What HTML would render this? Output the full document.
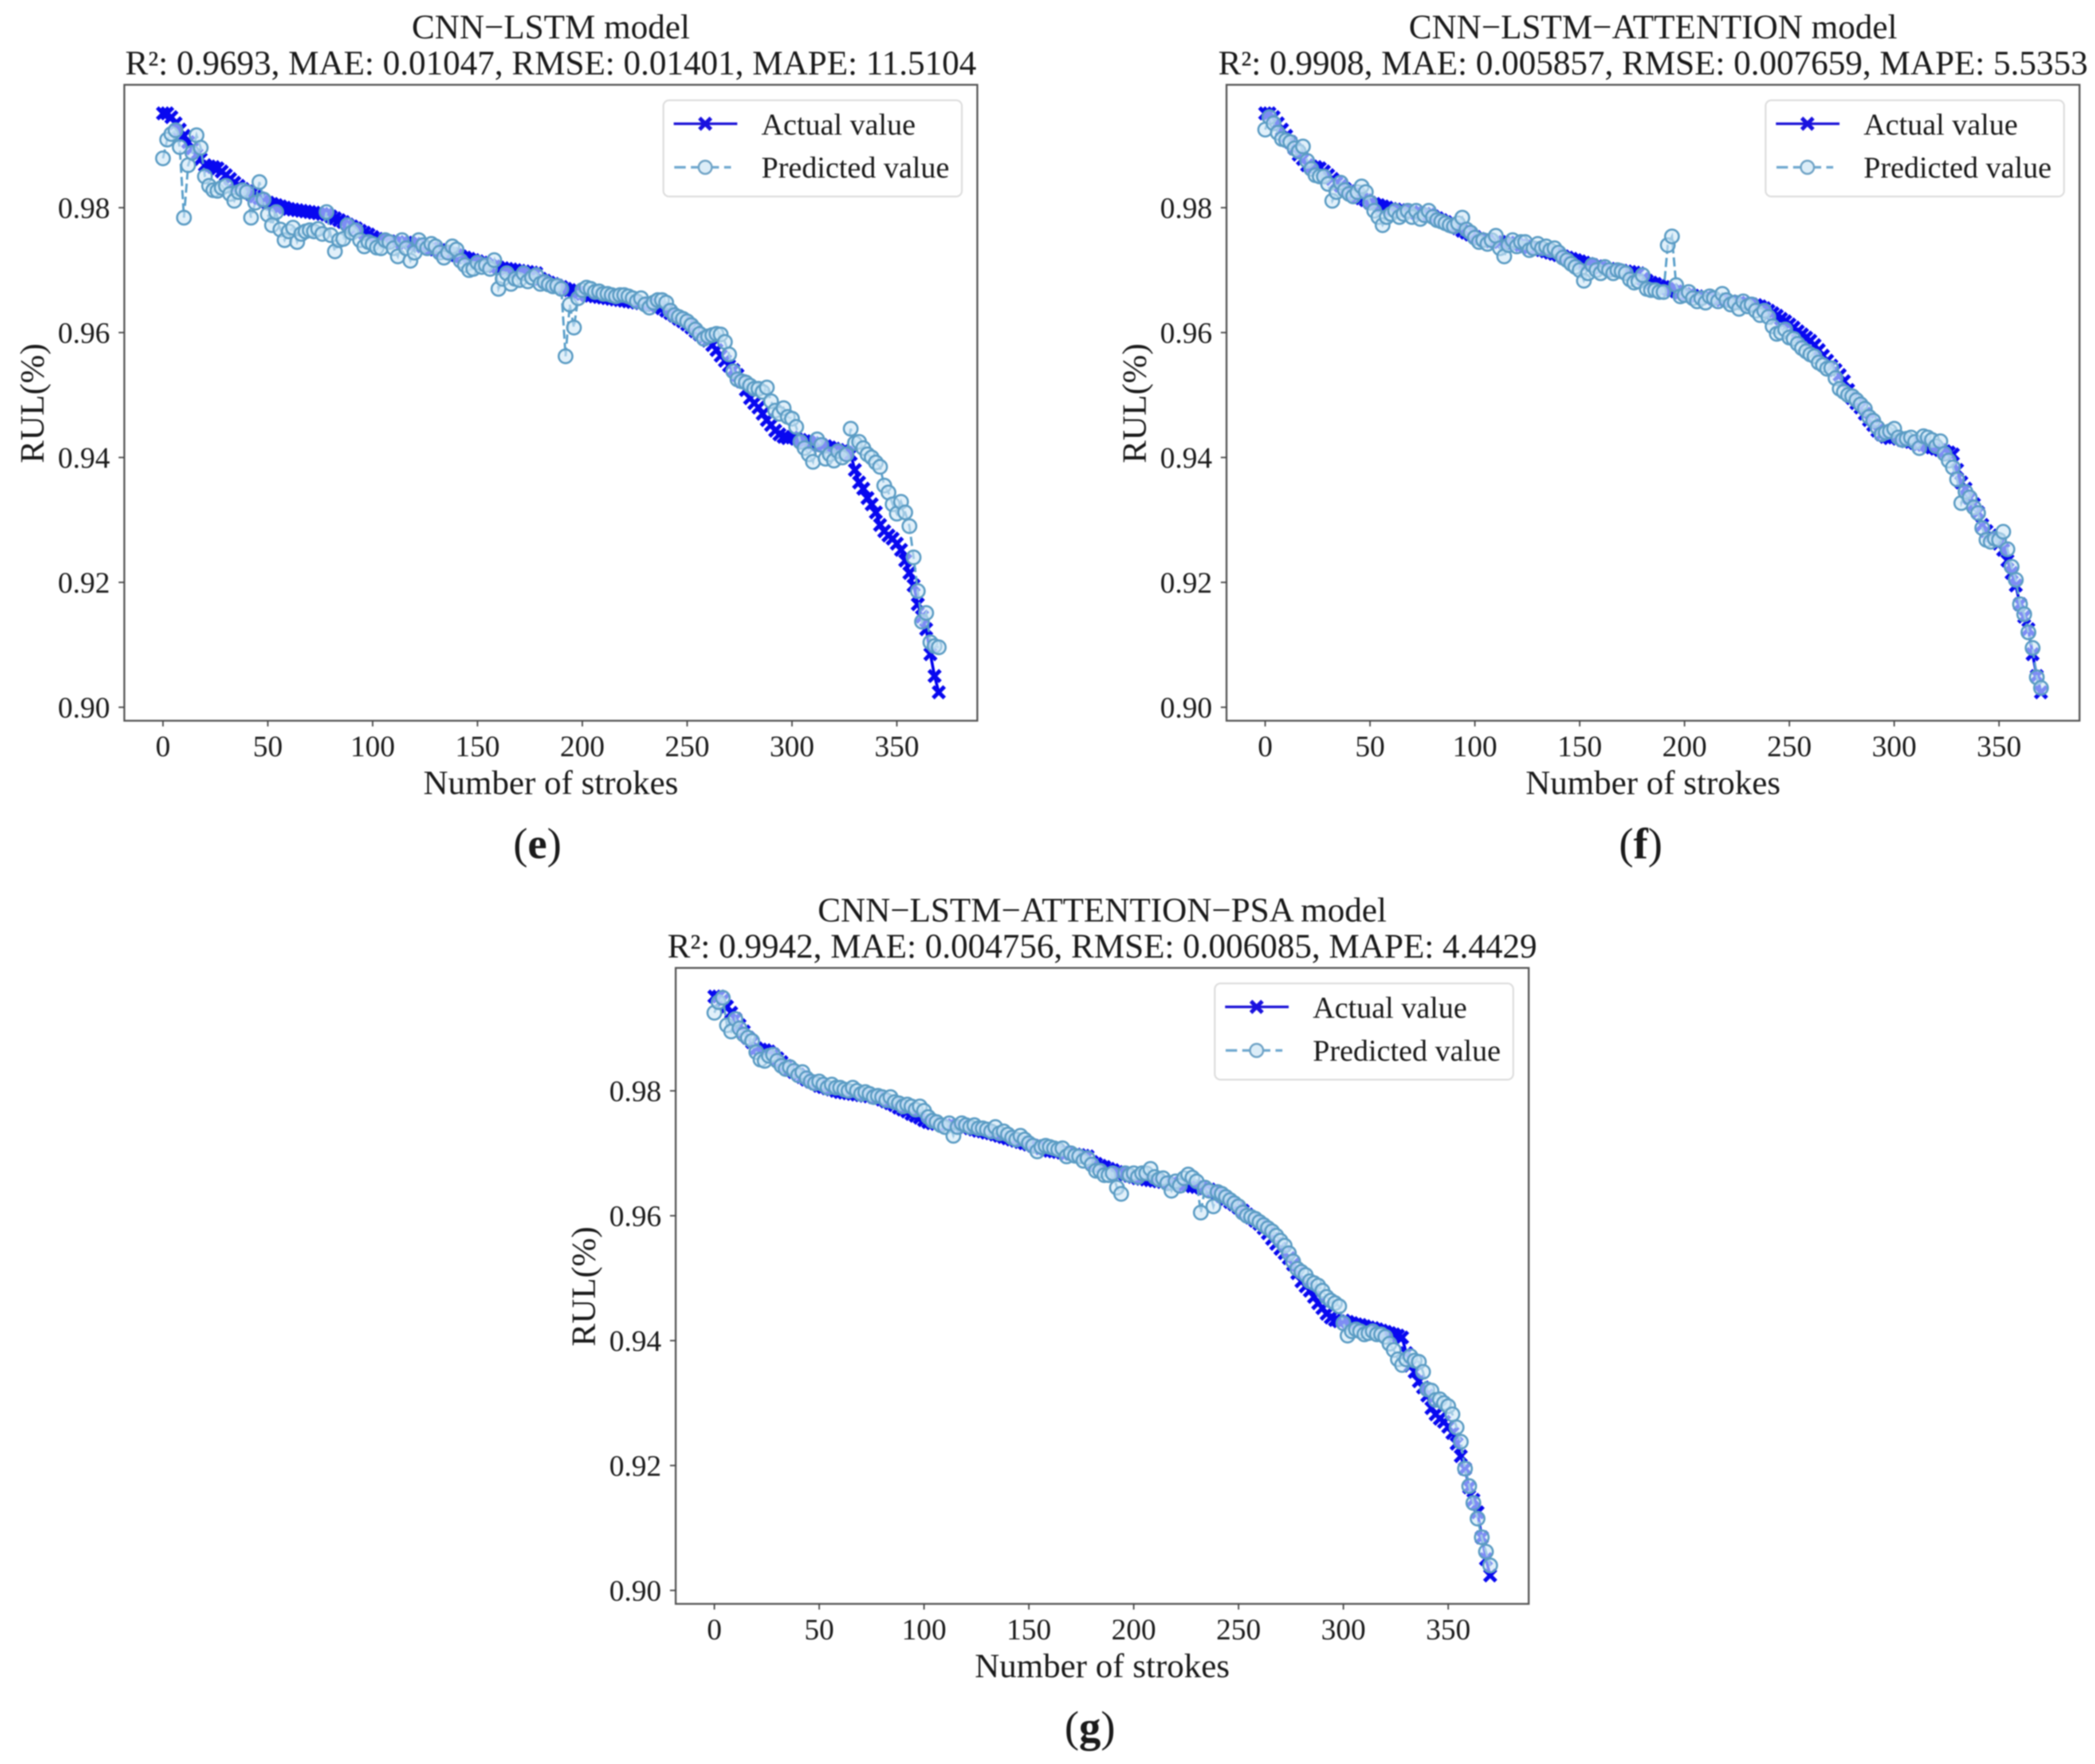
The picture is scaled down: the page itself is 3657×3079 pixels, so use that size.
<!DOCTYPE html>
<html lang="en">
<head>
<meta charset="utf-8">
<title>RUL prediction model comparison</title>
<style>
html,body{margin:0;padding:0;background:#fff}
svg{display:block;filter:blur(1px)}
text{font-family:"Liberation Serif","Times New Roman",serif;fill:#1a1a1a}
.title{font-size:60px;text-anchor:middle}
.axis-label{font-size:59.8px;text-anchor:middle}
.tick{font-size:52px}
.legend-text{font-size:53px}
.panel-tag{font-size:76px;text-anchor:middle}
</style>
</head>
<body>
<svg id="fig" xmlns="http://www.w3.org/2000/svg" width="3657" height="3079" viewBox="0 0 3657 3079">
<rect x="0" y="0" width="3657" height="3079" fill="#fff"/>

<g id="panel-e">
  <text class="title" x="961.5" y="67">CNN−LSTM model</text>
  <text class="title" x="961.5" y="130">R²: 0.9693, MAE: 0.01047, RMSE: 0.01401, MAPE: 11.5104</text>
  <text class="panel-tag" x="938" y="1498">(<tspan font-weight="bold">e</tspan>)</text>
</g>

<g id="panel-f" transform="translate(1924,0)">
  <text class="title" x="961.5" y="67">CNN−LSTM−ATTENTION model</text>
  <text class="title" x="961.5" y="130">R²: 0.9908, MAE: 0.005857, RMSE: 0.007659, MAPE: 5.5353</text>
  <text class="panel-tag" x="940" y="1498">(<tspan font-weight="bold">f</tspan>)</text>
</g>

<g id="panel-g" transform="translate(962.5,1541.5)">
  <text class="title" x="961.5" y="67">CNN−LSTM−ATTENTION−PSA model</text>
  <text class="title" x="961.5" y="130">R²: 0.9942, MAE: 0.004756, RMSE: 0.006085, MAPE: 4.4429</text>
  <text class="panel-tag" x="940" y="1498">(<tspan font-weight="bold">g</tspan>)</text>
</g>
</svg>

<script>
const xTickValues = [0, 50, 100, 150, 200, 250, 300, 350];
const xTickLabels = ["0", "50", "100", "150", "200", "250", "300", "350"];
const yTickValues = [0.90, 0.92, 0.94, 0.96, 0.98];
const yTickLabels = ["0.90", "0.92", "0.94", "0.96", "0.98"];
const xAxisTitle = "Number of strokes";
const yAxisTitle = "RUL(%)";
const legendLabels = ["Actual value", "Predicted value"];

const strokes = [
0,2,4,6,8,10,12,14,16,18,
20,22,24,26,28,30,32,34,36,38,
40,42,44,46,48,50,52,54,56,58,
60,62,64,66,68,70,72,74,76,78,
80,82,84,86,88,90,92,94,96,98,
100,102,104,106,108,110,112,114,116,118,
120,122,124,126,128,130,132,134,136,138,
140,142,144,146,148,150,152,154,156,158,
160,162,164,166,168,170,172,174,176,178,
180,182,184,186,188,190,192,194,196,198,
200,202,204,206,208,210,212,214,216,218,
220,222,224,226,228,230,232,234,236,238,
240,242,244,246,248,250,252,254,256,258,
260,262,264,266,268,270,272,274,276,278,
280,282,284,286,288,290,292,294,296,298,
300,302,304,306,308,310,312,314,316,318,
320,322,324,326,328,330,332,334,336,338,
340,342,344,346,348,350,352,354,356,358,
360,362,364,366,368,370];

const actualValues = [
.9951,.9951,.9945,.9935,.9925,.9915,.9905,.9895,.9885,.9878,
.9868,.9866,.9865,.9863,.9858,.9852,.9846,.984,.9835,.983,
.9826,.9822,.9818,.9815,.9812,.9808,.9806,.9804,.9802,.98,
.9798,.9797,.9796,.9795,.9794,.9793,.9792,.9791,.979,.9789,
.9786,.9783,.978,.9777,.9773,.977,.9767,.9763,.976,.9757,
.9753,.975,.9748,.9747,.9746,.9745,.9745,.9744,.9744,.9743,
.9742,.974,.9738,.9736,.9735,.9733,.9732,.973,.9728,.9726,
.9724,.9722,.972,.9718,.9716,.9714,.9712,.971,.9708,.9706,
.9704,.9703,.9702,.9701,.97,.9699,.9698,.9697,.9696,.9695,
.9686,.9683,.968,.9678,.9675,.9673,.967,.9668,.9666,.9664,
.9662,.966,.9659,.9658,.9657,.9656,.9655,.9654,.9653,.9652,
.9651,.965,.9649,.9648,.9647,.9646,.9645,.9644,.9642,.9639,
.9635,.9631,.9627,.9622,.9618,.9613,.9608,.9602,.9597,.9592,
.9587,.958,.9572,.9563,.9555,.9547,.954,.9532,.9522,.9508,
.9495,.9487,.948,.947,.946,.9452,.9443,.9437,.9433,.9431,
.9432,.943,.9428,.9426,.9425,.9423,.9421,.942,.9418,.9416,
.9414,.9412,.941,.9408,.9405,.938,.936,.935,.9335,.9325,
.9312,.9292,.9282,.9275,.927,.9262,.9252,.9235,.9215,.9195,
.9165,.9145,.9125,.9085,.905,.9024];

const predictedLstm = [
.9879,.9909,.9918,.9924,.9897,.9784,.9868,.9888,.9916,.9896,
.985,.9835,.9828,.9827,.9832,.9835,.9822,.9811,.9825,.9828,
.9825,.9784,.9808,.9841,.9813,.9789,.9772,.9793,.9765,.9748,
.9762,.9768,.9745,.9758,.9762,.9764,.9762,.9766,.9758,.9793,
.9756,.973,.9748,.975,.9772,.976,.9764,.9748,.9738,.9745,
.9742,.9736,.9735,.9748,.9745,.9735,.9722,.9748,.9735,.9715,
.9728,.9748,.974,.9735,.9742,.9738,.9728,.972,.9728,.9738,
.9733,.9715,.9708,.97,.9702,.9712,.9705,.9708,.9702,.9716,
.967,.9686,.9695,.9678,.9686,.9684,.9695,.9682,.9688,.9692,
.9678,.9681,.9677,.9674,.9675,.967,.9562,.9645,.9608,.9655,
.9668,.9672,.967,.9665,.9666,.9662,.9662,.966,.9658,.966,
.966,.9658,.9655,.965,.9655,.9645,.964,.9648,.9652,.9652,
.9648,.9635,.9628,.9625,.9622,.9618,.9612,.9605,.9598,.959,
.9594,.9596,.9598,.9597,.9585,.9565,.9538,.9525,.9522,.952,
.9515,.951,.951,.9505,.9512,.949,.9475,.947,.9479,.9465,
.9462,.9449,.9425,.9415,.9405,.9393,.9429,.942,.9398,.9405,
.9395,.941,.94,.9405,.9446,.9423,.9425,.9415,.9405,.94,
.9392,.9385,.9355,.9344,.9325,.931,.9329,.9312,.929,.924,
.9186,.9137,.9151,.9104,.9098,.9096];

const predictedAttention = [
.9925,.9945,.9935,.992,.991,.9908,.9905,.9895,.989,.9898,
.9875,.9862,.9852,.985,.985,.9838,.9811,.9825,.984,.9828,
.9822,.9818,.9825,.9834,.9825,.9808,.9795,.9785,.9772,.9785,
.979,.9795,.9785,.979,.9795,.9785,.9795,.9782,.9788,.9795,
.9785,.978,.9778,.9775,.9772,.977,.9775,.9784,.9765,.976,
.9752,.9745,.9748,.9742,.9748,.9755,.9735,.9722,.974,.9748,
.9738,.9745,.9745,.9732,.9735,.9742,.9735,.9738,.9732,.9735,
.9728,.972,.9716,.971,.9705,.97,.9683,.9695,.9708,.97,
.9695,.9705,.97,.9695,.97,.9698,.9695,.9685,.968,.9682,
.9692,.967,.9668,.9668,.9665,.9665,.974,.9754,.9676,.9658,
.966,.9665,.9655,.965,.9655,.9648,.9658,.9655,.965,.9662,
.9652,.9645,.9648,.9638,.965,.9642,.9645,.9635,.9628,.9635,
.9625,.961,.9598,.96,.9605,.9592,.959,.9582,.9575,.957,
.9565,.9562,.9552,.9548,.9542,.9543,.9527,.951,.9505,.95,
.9498,.9492,.9485,.9478,.9465,.9459,.9448,.9437,.944,.9442,
.9446,.9432,.9428,.943,.9432,.9425,.9415,.9434,.9432,.9428,
.9418,.9426,.9406,.9395,.9384,.9365,.9327,.9345,.9336,.932,
.9311,.9287,.9268,.9265,.927,.9268,.9281,.9253,.9225,.9204,
.9165,.9149,.912,.9095,.9048,.9031];

const predictedPsa = [
.9925,.9942,.9949,.9905,.9895,.9915,.99,.989,.9885,.988,
.9862,.985,.9848,.9856,.9858,.9848,.984,.9835,.9838,.9832,
.9825,.983,.982,.9815,.9812,.9815,.981,.9805,.981,.9805,
.9805,.9802,.98,.9805,.98,.9795,.9798,.9795,.979,.9792,
.979,.9785,.979,.9782,.978,.9775,.9778,.9775,.977,.9775,
.9768,.9758,.9752,.975,.9745,.9742,.9748,.9728,.9742,.9748,
.9745,.9742,.9745,.974,.974,.9738,.9735,.9742,.9732,.9735,
.973,.9725,.9722,.9728,.9722,.9716,.9712,.9703,.971,.9712,
.971,.9708,.9706,.9708,.9695,.97,.9696,.9695,.9688,.9692,
.9682,.9672,.9672,.9665,.9665,.9668,.9645,.9635,.9668,.9665,
.9668,.9662,.9668,.9668,.9675,.9662,.9658,.966,.9652,.964,
.9655,.9648,.966,.9666,.9661,.9655,.9605,.9645,.964,.9615,
.9638,.9635,.963,.9625,.962,.9615,.9605,.96,.9598,.9595,
.959,.9585,.958,.9575,.9568,.956,.9552,.954,.9527,.9515,
.951,.9505,.9495,.9492,.9488,.948,.947,.9464,.946,.9455,
.9428,.9408,.9415,.9418,.9415,.941,.9412,.9415,.941,.941,
.9406,.9395,.9385,.937,.9361,.937,.9375,.9368,.9366,.935,
.9322,.932,.9305,.9306,.93,.9295,.9282,.9261,.9238,.9195,
.9167,.914,.9115,.9085,.9062,.904];

const NS = "http://www.w3.org/2000/svg";
const plotLeft = 217, plotRight = 1706, plotTop = 148, plotBottom = 1258;
function xScale(stroke) { return 284.5 + stroke * 3.66; }
function yScale(rul) { return 362.5 + (0.98 - rul) * 10900; }

function make(parent, tag, attrs, text) {
  const el = document.createElementNS(NS, tag);
  for (const k in attrs) el.setAttribute(k, attrs[k]);
  if (text !== undefined) el.textContent = text;
  parent.appendChild(el);
  return el;
}

function drawPanel(panelId, predicted) {
  const root = document.getElementById(panelId);

  const frame = make(root, "rect", {x: plotLeft, y: plotTop, width: plotRight - plotLeft, height: plotBottom - plotTop, fill: "#fff", stroke: "#555", "stroke-width": 3.2});
  
  

  xTickValues.forEach(function (v, i) {
    const x = xScale(v);
    const t = make(root, "line", {x1: x, x2: x, y1: plotBottom, y2: plotBottom + 10, stroke: "#444", "stroke-width": 2.5});
    
    
    const l = make(root, "text", {class: "tick", x: x, y: 1320, "text-anchor": "middle"}, xTickLabels[i]);
    
    
  });
  yTickValues.forEach(function (v, i) {
    const y = yScale(v);
    const t = make(root, "line", {x1: plotLeft - 10, x2: plotLeft, y1: y, y2: y, stroke: "#444", "stroke-width": 2.5});
    
    
    const l = make(root, "text", {class: "tick", x: 192, y: y + 18, "text-anchor": "end"}, yTickLabels[i]);
    
    
  });

  const xt = make(root, "text", {class: "axis-label", x: 961.5, y: 1386}, xAxisTitle);
  
  
  const yt = make(root, "text", {class: "axis-label", x: 0, y: 0, transform: "translate(76,704) rotate(-90)"}, yAxisTitle);
  
  

  const actualPts = strokes.map(function (s, i) { return xScale(s) + "," + yScale(actualValues[i]); }).join(" ");
  const actualLine = make(root, "polyline", {points: actualPts, fill: "none", stroke: "#0000f0", "stroke-width": 5});
  
  

  const actualMarks = make(root, "g", {});
  
  
  strokes.forEach(function (s, i) {
    const x = xScale(s), y = yScale(actualValues[i]);
    const m = make(actualMarks, "path", {d: "M" + (x - 10) + " " + (y - 10) + "L" + (x + 10) + " " + (y + 10) + "M" + (x - 10) + " " + (y + 10) + "L" + (x + 10) + " " + (y - 10), stroke: "#0808f0", "stroke-width": 7, fill: "none"});
    
    
  });

  const predPts = strokes.map(function (s, i) { return xScale(s) + "," + yScale(predicted[i]); }).join(" ");
  const predLine = make(root, "polyline", {points: predPts, fill: "none", stroke: "#5a9fca", "stroke-width": 4, "stroke-dasharray": "16 7"});
  
  

  const predMarks = make(root, "g", {});
  
  
  strokes.forEach(function (s, i) {
    const m = make(predMarks, "circle", {cx: xScale(s), cy: yScale(predicted[i]), r: 12, fill: "rgba(205,230,246,0.6)", stroke: "#5b9cc4", "stroke-width": 3.6});
    
    
  });

  const legend = make(root, "g", {});
  
  
  const box = make(legend, "rect", {x: 1158, y: 175, width: 521, height: 168, rx: 10, ry: 10, fill: "#fff", stroke: "#ddd", "stroke-width": 3});
  
  

  const l1 = make(legend, "line", {x1: 1176, x2: 1287, y1: 216, y2: 216, stroke: "#1a12d8", "stroke-width": 4.5});
  
  
  const m1 = make(legend, "path", {d: "M1221 206L1241 226M1221 226L1241 206", stroke: "#1a12e0", "stroke-width": 7, fill: "none"});
  
  
  const t1 = make(legend, "text", {class: "legend-text", x: 1329, y: 235}, legendLabels[0]);
  
  

  const l2 = make(legend, "line", {x1: 1177, x2: 1276, y1: 292, y2: 292, stroke: "#6fa8cf", "stroke-width": 4.5, "stroke-dasharray": "20 9"});
  
  
  const m2 = make(legend, "circle", {cx: 1231, cy: 292, r: 11.5, fill: "#dcedf8", stroke: "#6fa3c6", "stroke-width": 3.4});
  
  
  const t2 = make(legend, "text", {class: "legend-text", x: 1329, y: 310}, legendLabels[1]);
  
  
}

drawPanel("panel-e", predictedLstm);
drawPanel("panel-f", predictedAttention);
drawPanel("panel-g", predictedPsa);
</script>
</body>
</html>
